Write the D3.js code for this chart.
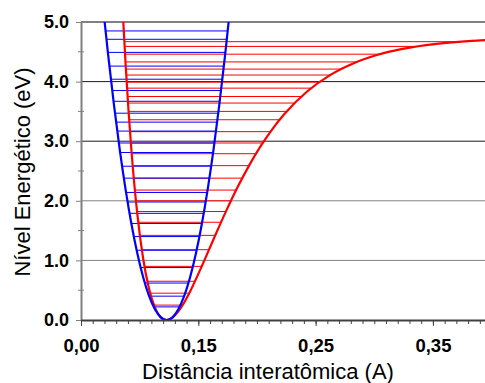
<!DOCTYPE html>
<html>
<head>
<meta charset="utf-8">
<script src="https://cdn.jsdelivr.net/npm/d3@7"></script>
<style>
  html, body { margin: 0; padding: 0; background: #fff; }
  svg { display: block; }
  text { font-family: Arial, "Liberation Sans", sans-serif; }
</style>
</head>
<body>
<svg id="chart" width="485" height="383"></svg>
<script>
// Morse potential (red) sampled along the interatomic distance axis
const morseR = [0.083, 0.0855, 0.088, 0.0905, 0.093, 0.098, 0.103, 0.108, 0.113, 0.118, 0.123,
                0.128, 0.133, 0.138, 0.143, 0.153, 0.163, 0.173, 0.183, 0.193, 0.203, 0.213,
                0.223, 0.243, 0.263, 0.283, 0.303, 0.323, 0.353, 0.383, 0.398];
const morseE = [6.249, 5.205, 4.299, 3.516, 2.843, 1.780, 1.028, 0.523, 0.2105, 0.0477, 0,
                0.0394, 0.1437, 0.2947, 0.4788, 0.904, 1.356, 1.798, 2.210, 2.582, 2.912, 3.199,
                3.447, 3.838, 4.117, 4.313, 4.450, 4.544, 4.633, 4.684, 4.700];

// Harmonic potential (blue)
const harmR = [0.068, 0.0695, 0.073, 0.078, 0.083, 0.088, 0.093, 0.098, 0.103, 0.108, 0.113, 0.118, 0.123,
               0.128, 0.133, 0.138, 0.143, 0.148, 0.153, 0.158, 0.163, 0.168, 0.173, 0.1765, 0.178];
const harmE = [5.415, 5.123, 4.475, 3.625, 2.864, 2.193, 1.611, 1.119, 0.716, 0.403, 0.179, 0.0448, 0,
               0.0448, 0.179, 0.403, 0.716, 1.119, 1.611, 2.193, 2.864, 3.625, 4.475, 5.123, 5.415];

// Vibrational energy levels (eV)
const morseLevels = [4.67, 4.59, 4.46, 4.33, 4.21, 4.11, 3.99, 3.89, 3.75, 3.64, 3.50, 3.36, 3.16,
                     2.97, 2.79, 2.59, 2.38, 2.18, 2.00, 1.82, 1.64, 1.42, 1.18, 0.90, 0.65, 0.45, 0.25];
const harmLevels = [4.85, 4.71, 4.49, 4.26, 4.04, 3.85, 3.67, 3.47, 3.32, 3.17, 2.97, 2.81, 2.58,
                    2.38, 2.14, 1.98, 1.79, 1.62, 1.40, 1.17, 0.88, 0.62, 0.40, 0.22];

// Axis ticks
const yTicks = [0, 1, 2, 3, 4, 5];
const yMinorTicks = [0.5, 1.5, 2.5, 3.5, 4.5];
const xTicks = [0.05, 0.15, 0.25, 0.35];
const xTickLabels = ["0,00", "0,15", "0,25", "0,35"];
const xMinorTicks = d3.range(0.05, 0.395, 0.01);

const svg = d3.select("#chart");
const plotLeft = 81, plotRight = 485, plotTop = 22, plotBottom = 320;

const x = d3.scaleLinear().domain([0.05, 0.3944]).range([plotLeft, plotRight]);
const y = d3.scaleLinear().domain([0, 5]).range([plotBottom, plotTop]);

svg.append("defs").append("clipPath").attr("id", "plot")
  .append("rect").attr("x", plotLeft).attr("y", plotTop)
  .attr("width", plotRight - plotLeft).attr("height", plotBottom - plotTop);

// horizontal grid lines
svg.append("g").selectAll("line")
  .data(yTicks.filter(d => d > 0))
  .join("line")
  .attr("x1", plotLeft).attr("x2", plotRight)
  .attr("y1", d => y(d)).attr("y2", d => y(d))
  .attr("stroke", d => (d === 3 || d === 4) ? "#1a1a1a" : "#808080")
  .attr("stroke-width", d => d === 5 ? 2 : 1);

// where a level crosses the descending and ascending branches of a curve
function crossings(rs, es, level) {
  let lo = null, hi = null;
  for (let i = 0; i < rs.length - 1; i++) {
    const e0 = es[i], e1 = es[i + 1];
    if (lo === null && e0 >= level && e1 <= level && e0 !== e1) {
      lo = rs[i] + (e0 - level) / (e0 - e1) * (rs[i + 1] - rs[i]);
    } else if (lo !== null && hi === null && e0 <= level && e1 >= level && e0 !== e1) {
      hi = rs[i] + (level - e0) / (e1 - e0) * (rs[i + 1] - rs[i]);
    }
  }
  return [lo, hi];
}

const plot = svg.append("g").attr("clip-path", "url(#plot)");

plot.append("g").selectAll("line")
  .data(morseLevels)
  .join("line")
  .each(function (d) {
    const [a, b] = crossings(morseR, morseE, d);
    d3.select(this).attr("x1", x(a)).attr("x2", x(b));
  })
  .attr("y1", d => y(d)).attr("y2", d => y(d))
  .attr("stroke", "#ff0000").attr("stroke-width", 1);

plot.append("g").selectAll("line")
  .data(harmLevels)
  .join("line")
  .each(function (d) {
    const [a, b] = crossings(harmR, harmE, d);
    d3.select(this).attr("x1", x(a)).attr("x2", x(b));
  })
  .attr("y1", d => y(d)).attr("y2", d => y(d))
  .attr("stroke", "#0000ff").attr("stroke-width", 1);

const line = d3.line().curve(d3.curveMonotoneX);

plot.append("path")
  .attr("d", line(morseR.map((r, i) => [x(r), y(morseE[i])])))
  .attr("fill", "none").attr("stroke", "#ff0000").attr("stroke-width", 2.2);

plot.append("path")
  .attr("d", line(harmR.map((r, i) => [x(r), y(harmE[i])])))
  .attr("fill", "none").attr("stroke", "#0000ff").attr("stroke-width", 2.2);

// y axis
const yAxis = svg.append("g").attr("transform", `translate(${plotLeft},0)`)
  .call(d3.axisLeft(y).tickValues(yTicks).tickFormat(d3.format(".1f"))
        .tickSize(5).tickPadding(7).tickSizeOuter(0));
yAxis.select(".domain").attr("stroke", "#808080").attr("stroke-width", 2);
yAxis.selectAll(".tick line").attr("stroke", "#808080");
yAxis.selectAll("text").attr("font-size", 18).attr("font-weight", "bold")
  .attr("fill", "#000").attr("font-family", "Arial, 'Liberation Sans', sans-serif");

svg.append("g").selectAll("line")
  .data(yMinorTicks)
  .join("line")
  .attr("x1", plotLeft - 3).attr("x2", plotLeft + 3)
  .attr("y1", d => y(d)).attr("y2", d => y(d))
  .attr("stroke", "#808080");

// x axis
const xMinor = svg.append("g").attr("transform", `translate(0,${plotBottom})`)
  .call(d3.axisBottom(x).tickValues(xMinorTicks).tickFormat("").tickSize(4).tickSizeOuter(0));
xMinor.select(".domain").attr("stroke", "#404040").attr("stroke-width", 2);
xMinor.selectAll(".tick line").attr("stroke", "#404040");

const xAxis = svg.append("g").attr("transform", `translate(0,${plotBottom})`)
  .call(d3.axisBottom(x).tickValues(xTicks).tickFormat((d, i) => xTickLabels[i])
        .tickSize(6).tickPadding(13).tickSizeOuter(0));
xAxis.select(".domain").remove();
xAxis.selectAll(".tick line").attr("stroke", "#404040");
xAxis.selectAll("text").attr("font-size", 18.5).attr("font-weight", "bold")
  .attr("fill", "#000").attr("font-family", "Arial, 'Liberation Sans', sans-serif");

// axis titles
svg.append("text")
  .attr("transform", "translate(30,172) rotate(-90)")
  .attr("text-anchor", "middle")
  .attr("font-size", 22)
  .attr("fill", "#000")
  .text("Nível Energético (eV)");

svg.append("text")
  .attr("x", 268).attr("y", 379)
  .attr("text-anchor", "middle")
  .attr("font-size", 22)
  .attr("fill", "#000")
  .text("Distância interatômica (A)");
</script>
</body>
</html>
